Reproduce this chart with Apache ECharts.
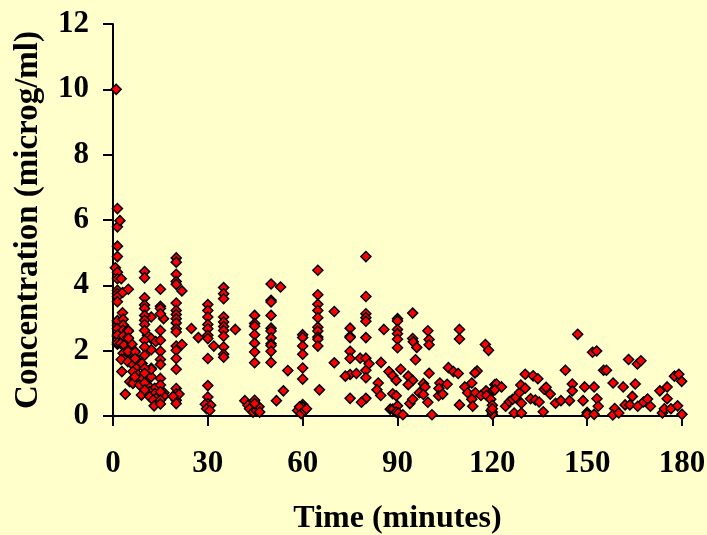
<!DOCTYPE html>
<html><head><meta charset="utf-8">
<style>html,body{margin:0;padding:0;background:#FFFFCC}#c{width:707px;height:535px}</style>
<script src="https://cdn.jsdelivr.net/npm/echarts@6/dist/echarts.min.js"></script>
</head><body><div id="c"></div>
<script>
const xTickLabels = [0,30,60,90,120,150,180];
const yTickLabels = [0,2,4,6,8,10,12];
const firstMinutes = [[1,10],[1.4,6.35],[1.4,5.79],[2.2,5.98],[1.4,5.2],[1.4,4.88],[0.75,4.54],[1.4,4.4],[1.4,4.2],[2.6,4.2],[1.4,3.85],[1.4,3.75],[1.4,3.65],[1.4,3.5],[3.05,3.78],[4.85,3.88],[1.4,2.88],[1.4,2.78],[1.4,2.44],[1.4,2.2],[1.4,2.92],[1.4,2.68],[1.4,2.48],[1.4,2.24]];
const earlyDecay = [[3,3.16],[3.2,2.96],[3.2,2.79],[3.2,2.63],[4.7,2.63],[3.2,2.45],[4.7,2.41],[2.4,2.22],[3.5,2.17],[6,2.2],[4.7,2.02],[6.9,1.99],[3.2,1.92],[4.2,1.82],[5.3,1.87],[2.6,1.73],[4.7,1.66],[6.9,1.8],[6.3,1.56],[7.9,1.66],[9.2,1.61],[7.4,1.46],[2.8,1.36],[6.3,1.36],[7.9,1.26],[5.3,1.05],[6.9,1.1],[9,1.15],[6.3,1],[8.4,0.95],[11,0.95],[13.2,0.85],[11.6,0.74],[9,0.64],[13.2,0.69],[16.1,0.71],[11.6,0.59],[13.7,0.54],[16.1,0.61],[12.7,0.49],[13,0.31],[3.9,0.67],[6.9,1.2],[4.9,2.6],[4.9,2.38],[4.75,1.98],[7,1.96],[7,1.76],[12.1,1.46],[12.1,1.2],[12.1,3.03],[16,2.98],[10.9,2.47],[12.1,2.37],[13.5,2.28],[12.1,2.03],[12.1,1.43]];
const column10 = [[10,4.42],[10,4.23],[10,3.62],[10,3.4],[10,3.29],[10,3.08],[10,2.93],[10,2.8],[10,2.62],[10,2.32],[10,2.11],[10,1.86],[10,1.46],[10,1.31],[10,1.02],[10,0.8]];
const column15 = [[15,3.88],[15,3.36],[15,3.29],[15,3.13],[15,2.62],[15,2.32],[15,1.98],[15,1.73],[15,1.58],[15,1.15],[15,0.95],[15,0.74],[15,0.49],[15,0.37]];
const column20 = [[20,4.84],[20,4.71],[20,4.34],[20,4.12],[20,4.03],[20,3.46],[20,3.23],[20,3.11],[20,2.98],[20,2.85],[20,2.67],[20,2.57],[20,2.14],[20,2.01],[20,1.76],[20,1.43],[20,0.84],[20,0.68],[20,0.48],[20,0.38],[21.8,3.83],[21.8,2.19],[20.9,0.67],[19,0.6],[24.8,2.68],[27,2.4]];
const column30to35 = [[30,3.41],[30,3.23],[30,3.03],[30,2.8],[30,2.67],[30,2.47],[30,2.37],[30,1.76],[30,0.93],[30,0.58],[30,0.38],[30,0.28],[29.2,0.36],[30.9,0.33],[29.6,0.22],[30.6,0.17],[31.9,2.14],[35,3.93],[35,3.74],[35,3.59],[35,3.03],[35,2.88],[35,2.74],[35,2.62],[35,2.44],[35,2.11],[35,1.89],[35,1.8],[38.7,2.65]];
const column45to50 = [[41.7,0.47],[44.8,0.48],[42.7,0.33],[43.2,0.22],[44.3,0.12],[45.3,0.17],[46.2,0.28],[46.4,0.12],[44.8,0.38],[44.8,3.08],[44.8,2.83],[44.8,2.75],[44.8,2.49],[44.8,2.23],[44.8,1.96],[44.8,1.63],[50,4.04],[50,3.54],[50,3.49],[50,3.08],[50,2.69],[50,2.6],[50,2.39],[50,2.21],[50,2.16],[50,1.98],[50,1.64],[53,3.95],[55.3,1.39],[53.9,0.77],[51.7,0.47]];
const column60to65 = [[60,2.49],[60,2.4],[60,2.14],[60,1.89],[60,1.47],[60,1.13],[60,0.35],[60,0.28],[60,0.17],[60,0.12],[58.4,0.17],[59,0.28],[59.5,0.07],[60.7,0.17],[61.2,0.22],[64.8,4.46],[64.8,3.71],[64.8,3.42],[64.8,3.23],[64.8,3.01],[64.8,2.72],[64.8,2.6],[64.8,2.42],[64.8,2.35],[64.8,2.14],[65.3,0.8]];
const column70to90 = [[70,3.2],[70,1.63],[75,2.69],[75,2.44],[75,2.4],[75,1.98],[75,1.76],[75,1.27],[75,0.54],[73.5,1.22],[77,1.3],[78.2,1.77],[80,4.88],[80,3.66],[80,3.13],[80,3.01],[80,2.9],[80,2.4],[80,1.77],[80,1.4],[80,1.17],[80,0.54],[78.6,0.42],[81,1.6],[84.8,1.64],[85.7,2.65],[83.9,1.01],[83.5,0.8],[84.7,0.63],[87.3,1.36],[88.5,1.23],[89.6,1.09],[88.5,0.68],[89.6,0.62],[87.7,0.21],[88.5,0.21],[90,0.31],[89.6,0.12],[90.3,0.09],[91.7,0.04],[90,2.98],[90,2.91],[90,2.65],[90,2.52],[90,2.35],[90,2.09]];
const column90to120 = [[91,1.43],[93.4,1.22],[94.8,1.09],[93.4,0.96],[93.9,0.38],[94.8,0.51],[94.8,3.15],[94.8,2.37],[95,2.27],[96.1,2.1],[95.7,1.72],[99.6,2.61],[100,2.34],[100,2.18],[100,1.31],[98.2,0.99],[98.7,0.89],[96.9,0.71],[98.2,0.66],[99.6,0.42],[100.9,0.04],[106.1,1.48],[107.7,1.36],[109.2,1.3],[103.4,1.01],[105.7,0.97],[103.1,0.84],[103,0.62],[104.3,0.67],[109.6,2.65],[109.6,2.36],[109.6,0.34],[111.3,0.89],[113.5,1.01],[112.2,0.71],[114.6,0.71],[115.2,1.38],[114.5,1.32],[113.5,0.51],[113.8,0.3],[116.4,0.63],[117.8,2.19],[118.8,2.01],[118,0.77],[118.2,0.63],[120.8,0.96],[120.3,0.79],[119.5,0.51],[120,0.33],[120,0.12],[120,0.05],[119.6,0.17],[120,0.22]];
const column120to150 = [[121.3,0.98],[122.9,0.89],[120.8,0.8],[124.2,0.3],[125.4,0.44],[126.4,0.51],[127.4,0.57],[128.6,0.72],[129,0.95],[130.4,0.85],[130.4,1.28],[129.2,0.39],[126.9,0.09],[129.2,0.09],[132.9,1.23],[134.4,1.14],[132.1,0.53],[133.6,0.49],[134.8,0.43],[136.1,0.13],[136.4,0.82],[137,0.88],[138.3,0.67],[140,0.39],[141.7,0.47],[143.1,1.4],[144.4,0.47],[145.3,0.98],[145.3,0.77],[147,2.5],[149.2,0.89],[148.7,0.47],[150,0.11],[150,0.05]];
const column150to180 = [[152.2,0.89],[153.1,0.53],[153.5,0.3],[152.2,0.05],[151.7,1.95],[153,1.99],[155.2,1.4],[156.1,1.4],[158.2,1.01],[158.7,0.23],[158.1,0.03],[160,0.09],[161.4,0.89],[162,0.34],[163.5,0.34],[165.2,0.98],[164.3,0.6],[163.1,1.73],[165.9,1.59],[167,1.69],[166,0.3],[167.8,0.43],[169.1,0.52],[170,0.3],[173,0.77],[175.3,0.89],[175.3,0.53],[173.8,0.09],[174.4,0.22],[176.5,0.22],[178.6,0.31],[177.6,1.22],[179,1.28],[179.9,1.06],[180,0.05]];
const points = [].concat(firstMinutes,earlyDecay,column10,column15,column20,column30to35,column45to50,column60to65,column70to90,column90to120,column120to150,column150to180);
const font = '"Liberation Serif","Times New Roman",serif';
const axisCommon = {
  axisLine:{show:true,onZero:false,lineStyle:{color:'#000',width:2}},
  axisTick:{show:true,inside:false,length:10,lineStyle:{color:'#000',width:2}},
  splitLine:{show:false},minorTick:{show:false},
  axisLabel:{color:'#000',fontFamily:font,fontWeight:'bold',fontSize:31,showMinLabel:true,showMaxLabel:true,hideOverlap:false},
  nameLocation:'middle'
};
const nameStyle = size => ({color:'#000',fontFamily:font,fontWeight:'bold',fontSize:size});
const chart = echarts.init(document.getElementById('c'),null,{renderer:'canvas'});
chart.setOption({
  animation:false,
  backgroundColor:'#FFFFCC',
  grid:{left:113,right:25,top:24,bottom:119,containLabel:false,outerBoundsMode:'none'},
  xAxis:Object.assign({},axisCommon,{type:'value',min:xTickLabels[0],max:xTickLabels[xTickLabels.length-1],interval:30,name:'Time (minutes)',nameGap:87,nameTextStyle:nameStyle(32),
    axisLabel:Object.assign({},axisCommon.axisLabel,{margin:32})}),
  yAxis:Object.assign({},axisCommon,{type:'value',min:yTickLabels[0],max:yTickLabels[yTickLabels.length-1],interval:2,name:'Concentration (microg/ml)',nameGap:68,nameTextStyle:nameStyle(33),
    axisLabel:Object.assign({},axisCommon.axisLabel,{margin:24})}),
  series:[{type:'scatter',data:points,symbol:'diamond',symbolSize:10,clip:false,
    itemStyle:{color:'#FF0000',borderColor:'#000',borderWidth:1.5,opacity:1}}]
});
</script></body></html>
